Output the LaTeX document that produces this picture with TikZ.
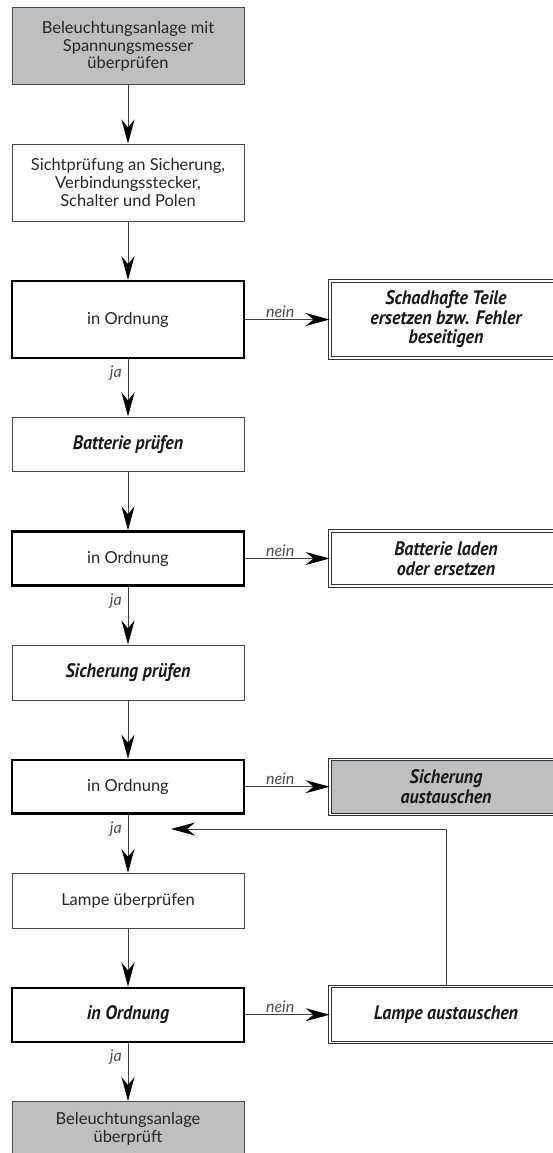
\documentclass[tikz,border=0pt]{standalone}
\usepackage{fontspec}
\setmainfont{Lato}
\newfontfamily\hand{PT Sans}[FakeStretch=0.92]
\usetikzlibrary{arrows.meta}
\definecolor{boxgray}{RGB}{190,191,193}
\begin{document}
\begin{tikzpicture}[x=1pt,y=-1pt,
  base/.style={rectangle, minimum width=232pt, align=center, inner sep=2pt,
    font=\fontsize{16.5}{17.6}\selectfont, text=black!85},
  proc/.style={base, draw=black!70, line width=1pt, fill=white},
  grayproc/.style={proc, fill=boxgray},
  dec/.style={base, draw=black, line width=2.4pt, fill=white},
  res/.style={base, draw=black!80, line width=0.9pt, double=white, double distance=1.4pt, fill=white},
  grayres/.style={res, fill=boxgray},
  handtxt/.style={font=\hand\bfseries\itshape\fontsize{19.5}{19.5}\selectfont, text=black!90},
  conn/.style={draw=black!75, line width=0.9pt},
  arr/.style={conn, -{Stealth[length=24pt,width=13pt,inset=8pt,color=black]}},
  lbl/.style={font=\itshape\fontsize{16}{16}\selectfont, text=black!70, inner sep=1pt},
]
\useasboundingbox (0,0) rectangle (553,1153);
\clip (0,0) rectangle (553,1153);

\node[grayproc, minimum height=77pt] (b1) at (128,46.5) {Beleuchtungsanlage mit\\Spannungsmesser\\überprüfen};
\node[proc, minimum height=77pt] (b2) at (128,182.5) {Sichtprüfung an Sicherung,\\Verbindungsstecker,\\Schalter und Polen};
\node[dec, minimum height=76.5pt] (d1) at (128,319.5) {in Ordnung};
\node[res, handtxt, minimum height=77pt] (r1) at (446,319.5) {Schadhafte Teile\\ersetzen bzw. Fehler\\beseitigen};
\node[proc, handtxt, minimum height=54pt] (b3) at (128,444) {Batterie prüfen};
\node[dec, minimum height=54pt] (d2) at (128,558.5) {in Ordnung};
\node[res, handtxt, minimum height=55pt] (r2) at (446,558.5) {Batterie laden\\oder ersetzen};
\node[proc, handtxt, minimum height=55pt] (b4) at (128,672.5) {Sicherung prüfen};
\node[dec, minimum height=53.5pt] (d3) at (128,786.7) {in Ordnung};
\node[grayres, handtxt, minimum height=55pt] (r3) at (446,786.7) {Sicherung\\austauschen};
\node[proc, minimum height=55pt] (b5) at (128,900.8) {Lampe überprüfen};
\node[dec, handtxt, minimum height=54pt] (d4) at (128,1014.7) {in Ordnung};
\node[res, handtxt, minimum height=56pt] (r4) at (446,1014.7) {Lampe austauschen};
\node[grayproc, anchor=north, inner ysep=11pt] (b6) at (128,1101) {Beleuchtungsanlage\\überprüft\\[20pt]\mbox{}};

\coordinate (fb) at (171,829);

\draw[arr] (b1) -- (b2);
\draw[arr] (b2) -- (d1);
\draw[arr] (d1) -- (b3);
\draw[arr] (b3) -- (d2);
\draw[arr] (d2) -- (b4);
\draw[arr] (b4) -- (d3);
\draw[arr] (d3) -- (b5);
\draw[arr] (b5) -- (d4);
\draw[arr] (d4) -- (b6.north);

\draw[arr] (d1.east) -- (d1.east -| r1.west);
\draw[arr] (d2.east) -- (d2.east -| r2.west);
\draw[arr] (d3.east) -- (d3.east -| r3.west);
\draw[arr] (d4.east) -- (d4.east -| r4.west);

\draw[arr] (r4.north) |- (fb);

\foreach \d in {d1,d2,d3,d4}{
  \node[lbl, anchor=south] at ([xshift=35pt,yshift=1pt]\d.east) {nein};
  \node[lbl, anchor=east] at ([xshift=-5pt,yshift=-14.5pt]\d.south) {ja};
}
\end{tikzpicture}
\end{document}
